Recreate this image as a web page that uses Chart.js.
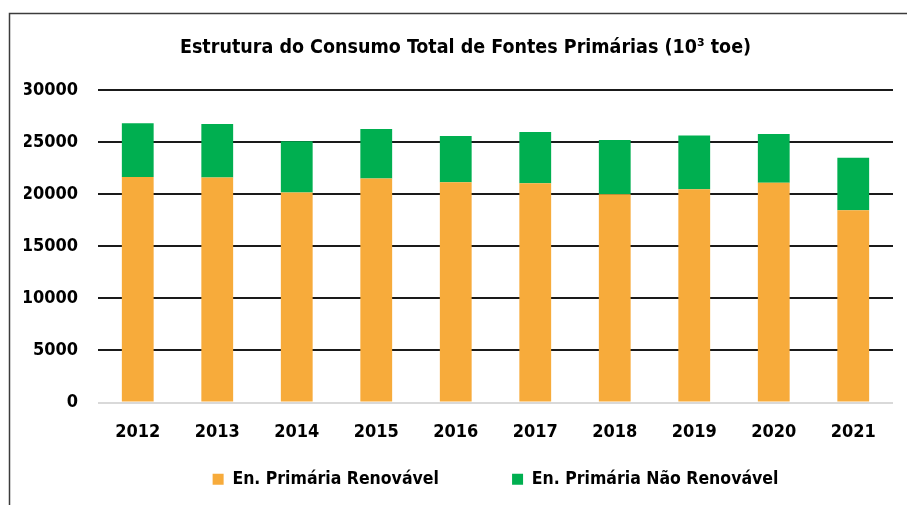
<!DOCTYPE html>
<html>
<head>
<meta charset="utf-8">
<script src="https://cdn.jsdelivr.net/npm/chart.js@4.4.1/dist/chart.umd.min.js"></script>
<style>
  html, body { margin: 0; padding: 0; background: #ffffff; }
  #wrap { position: relative; width: 907px; height: 505px; }
  canvas { display: block; }
</style>
</head>
<body>
<div id="wrap"><canvas id="c" width="907" height="505"></canvas></div>
<script>
const categories = ['2012', '2013', '2014', '2015', '2016', '2017', '2018', '2019', '2020', '2021'];
const renovavel = [21660, 21600, 20160, 21510, 21150, 21060, 20000, 20480, 21090, 18460];
const naoRenovavel = [5140, 5130, 4930, 4740, 4430, 4900, 5190, 5160, 4680, 5030];
const yTicks = [0, 5000, 10000, 15000, 20000, 25000, 30000];
const chartTitle = 'Estrutura do Consumo Total de Fontes Primárias (10³ toe)';
const seriesNames = ['En. Primária Renovável', 'En. Primária Não Renovável'];
const seriesColors = ['#F7AB3B', '#00AF50'];

const FONT = "'Liberation Sans Narrow', 'DejaVu Sans Condensed', 'Liberation Sans', sans-serif";

const framePlugin = {
  id: 'frame',
  beforeDraw(chart) {
    const ctx = chart.ctx;
    ctx.save();
    ctx.fillStyle = '#ffffff';
    ctx.fillRect(0, 0, chart.width, chart.height);
    ctx.strokeStyle = '#3c3c3c';
    ctx.lineWidth = 1.5;
    ctx.beginPath();
    ctx.moveTo(9.5, chart.height);
    ctx.lineTo(9.5, 13.5);
    ctx.lineTo(chart.width, 13.5);
    ctx.stroke();
    ctx.restore();
  }
};

new Chart(document.getElementById('c'), {
  type: 'bar',
  data: {
    labels: categories,
    datasets: [
      { label: seriesNames[0], data: renovavel, backgroundColor: seriesColors[0], borderWidth: 0, yAxisID: 'y' },
      { label: seriesNames[1], data: naoRenovavel, backgroundColor: seriesColors[1], borderWidth: 0, yAxisID: 'y' }
    ]
  },
  options: {
    responsive: false,
    animation: false,
    layout: { padding: { left: 24, right: 0, top: 0, bottom: 7 } },
    datasets: { bar: { barPercentage: 0.4, categoryPercentage: 1.0 } },
    plugins: {
      title: {
        display: true,
        text: chartTitle,
        color: '#000000',
        font: { family: FONT, size: 19.5, weight: 'bold' },
        padding: { top: 36, bottom: 30.6 }
      },
      legend: {
        display: true,
        position: 'bottom',
        fullSize: false,
        labels: {
          color: '#000000',
          font: { family: FONT, size: 17.5, weight: 'bold' },
          boxWidth: 11,
          boxHeight: 11,
          padding: 24,
          generateLabels(chart) {
            const items = Chart.defaults.plugins.legend.labels.generateLabels(chart);
            const spacer = {
              text: ' ',
              fillStyle: 'rgba(0,0,0,0)',
              strokeStyle: 'rgba(0,0,0,0)',
              lineWidth: 0,
              hidden: false,
              datasetIndex: -1
            };
            return [items[0], spacer, items[1]];
          }
        },
        onClick() {}
      },
      tooltip: { enabled: false }
    },
    scales: {
      x: {
        stacked: true,
        grid: { display: false, drawTicks: false },
        border: { display: false },
        ticks: { color: '#000000', font: { family: FONT, size: 18, weight: 'bold' }, padding: 19, maxRotation: 0 },
        afterFit(scale) { scale.height = 44; }
      },
      y: {
        stacked: true,
        position: 'left',
        min: 0,
        max: 30000,
        afterBuildTicks(scale) { scale.ticks = yTicks.map(v => ({ value: v })); },
        grid: {
          drawTicks: false,
          lineWidth: 2,
          color: (c) => (c.tick && c.tick.value === 0) ? '#d9d9d9' : '#1a1a1a'
        },
        border: { display: false },
        ticks: {
          color: '#000000',
          font: { family: FONT, size: 18, weight: 'bold' },
          padding: 20,
          callback: (v) => String(v)
        },
        afterFit(scale) { scale.width = 74; }
      },
      yRight: {
        axis: 'y',
        position: 'right',
        display: true,
        grid: { display: false, drawTicks: false },
        border: { display: false },
        ticks: { display: false },
        afterFit(scale) { scale.width = 14; }
      }
    }
  },
  plugins: [framePlugin]
});
</script>
</body>
</html>
